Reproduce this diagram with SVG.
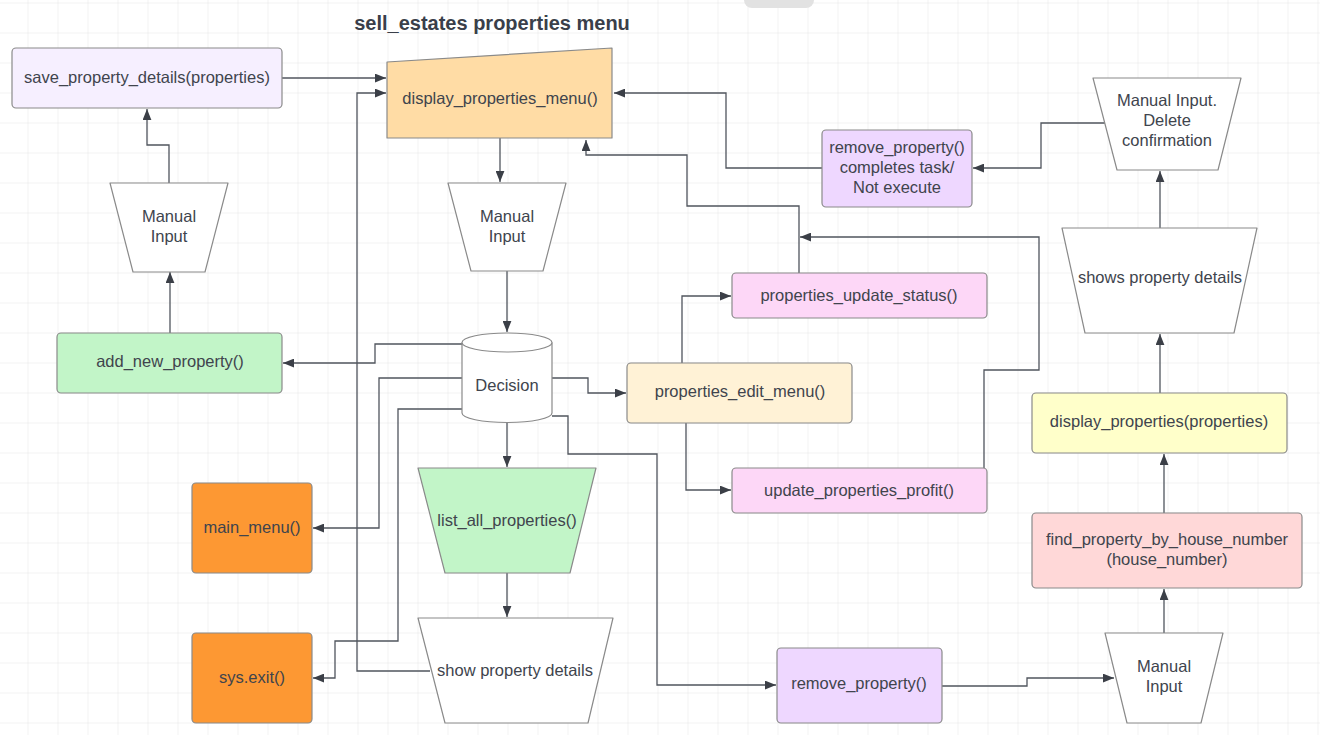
<svg xmlns="http://www.w3.org/2000/svg" width="1320" height="735" viewBox="0 0 1320 735">
<defs>
<pattern id="grid" x="27.5" y="2.5" width="30" height="30" patternUnits="userSpaceOnUse">
<path d="M0,0 H30 M0,0 V30" fill="none" stroke="#e6e6e6" stroke-width="1"/>
</pattern>
<marker id="arr" viewBox="0 0 10 8" refX="10" refY="4" markerWidth="11" markerHeight="9" markerUnits="userSpaceOnUse" orient="auto">
<path d="M0,0 L10,4 L0,8 Z" fill="#3b3f47"/>
</marker>
<style>
.n{stroke:#8a8a8a;stroke-width:1.2;stroke-linejoin:round}
.t{font-family:"Liberation Sans",Arial,sans-serif;font-size:16.5px;fill:#40444d;text-anchor:middle}
.c{fill:none;stroke:#50555e;stroke-width:1.3;marker-end:url(#arr)}
.w{fill:#ffffff}
.lav{fill:#f6efff}
.org{fill:#ffdca5}
.grn{fill:#c2f5c8}
.crm{fill:#fff2d6}
.pnk{fill:#fdd7f7}
.pur{fill:#eed7ff}
.yel{fill:#ffffca}
.red{fill:#ffd8d8}
.dor{fill:#fd9833}
</style>
</defs>
<rect width="1320" height="735" fill="#ffffff"/>
<rect width="1320" height="735" fill="url(#grid)"/>
<rect x="744" y="-12" width="70" height="20" rx="8" fill="#e2e2e2"/>
<text x="492" y="30" style="font-family:'Liberation Sans',Arial,sans-serif;font-size:20px;font-weight:bold;fill:#3a3f4a" text-anchor="middle">sell_estates properties menu</text>

<g id="connectors">
<path class="c" d="M282,78 H386"/>
<path class="c" d="M169,183 V145 H147 V109"/>
<path class="c" d="M170,333 V272"/>
<path class="c" d="M500,138 V182"/>
<path class="c" d="M507,271 V332"/>
<path class="c" d="M462,344 H375 V363 H283"/>
<path class="c" d="M462,378 H379 V528 H313"/>
<path class="c" d="M462,409 H398 V641 H335 V678 H313"/>
<path class="c" d="M430,671 H357 V93 H386"/>
<path class="c" d="M552,378 H588 V393 H626"/>
<path class="c" d="M507,422 V467"/>
<path class="c" d="M507,573 V617"/>
<path class="c" d="M552,416 H568 V454 H657 V685 H776"/>
<path class="c" d="M682,363 V296 H731"/>
<path class="c" d="M686,423 V490 H731"/>
<path class="c" d="M799,273 V206 H687 V155 H586 V140"/>
<path class="c" d="M984,468 V370 H1039 V237 H800"/>
<path class="c" d="M822,168 H726 V93 H614"/>
<path class="c" d="M1105,123 H1041 V168 H973"/>
<path class="c" d="M1160,228 V171"/>
<path class="c" d="M1160,393 V334"/>
<path class="c" d="M1164,513 V454"/>
<path class="c" d="M1164,633 V589"/>
<path class="c" d="M942,686 H1027 V678 H1114"/>
</g>

<g id="save_property_details">
<rect class="n lav" x="12" y="48" width="270" height="60" rx="4"/>
<text class="t" x="147" y="83">save_property_details(properties)</text>
</g>
<g id="display_properties_menu">
<path class="n org" d="M387,62 L612,48 L612,138 L387,138 Z"/>
<text class="t" x="500" y="104">display_properties_menu()</text>
</g>
<g id="manual_input_left">
<path class="n w" d="M110,183 L228,183 L205,272 L133,272 Z"/>
<text class="t" x="169" y="222">Manual</text>
<text class="t" x="169" y="242">Input</text>
</g>
<g id="add_new_property">
<rect class="n grn" x="57" y="333" width="225" height="60" rx="4"/>
<text class="t" x="170" y="367">add_new_property()</text>
</g>
<g id="manual_input_center">
<path class="n w" d="M448,183 L566,183 L543,271 L471,271 Z"/>
<text class="t" x="507" y="222">Manual</text>
<text class="t" x="507" y="242">Input</text>
</g>
<g id="decision">
<path class="n w" d="M462,342.5 V413 A45,9.5 0 0 0 552,413 V342.5"/>
<ellipse class="n w" cx="507" cy="342.5" rx="45" ry="9.5"/>
<text class="t" x="507" y="391">Decision</text>
</g>
<g id="properties_edit_menu">
<rect class="n crm" x="627" y="363" width="225" height="60" rx="4"/>
<text class="t" x="740" y="397">properties_edit_menu()</text>
</g>
<g id="properties_update_status">
<rect class="n pnk" x="732" y="273" width="255" height="45" rx="4"/>
<text class="t" x="859" y="301">properties_update_status()</text>
</g>
<g id="update_properties_profit">
<rect class="n pnk" x="732" y="468" width="255" height="45" rx="4"/>
<text class="t" x="859" y="496">update_properties_profit()</text>
</g>
<g id="remove_property_completes">
<rect class="n pur" x="822" y="130" width="150" height="77" rx="4"/>
<text class="t" x="897" y="153">remove_property()</text>
<text class="t" x="897" y="173">completes task/</text>
<text class="t" x="897" y="193">Not execute</text>
</g>
<g id="manual_input_delete">
<path class="n w" d="M1093,78 L1241,78 L1218,170 L1117,170 Z"/>
<text class="t" x="1167" y="106">Manual Input.</text>
<text class="t" x="1167" y="126">Delete</text>
<text class="t" x="1167" y="146">confirmation</text>
</g>
<g id="shows_property_details">
<path class="n w" d="M1062,228 L1257,228 L1234,333 L1085,333 Z"/>
<text class="t" x="1160" y="283">shows property details</text>
</g>
<g id="display_properties">
<rect class="n yel" x="1032" y="393" width="255" height="60" rx="4"/>
<text class="t" x="1159" y="427">display_properties(properties)</text>
</g>
<g id="find_property_by_house_number">
<rect class="n red" x="1032" y="513" width="270" height="75" rx="4"/>
<text class="t" x="1167" y="545">find_property_by_house_number</text>
<text class="t" x="1167" y="565">(house_number)</text>
</g>
<g id="manual_input_bottom">
<path class="n w" d="M1105,633 L1223,633 L1201,723 L1127,723 Z"/>
<text class="t" x="1164" y="672">Manual</text>
<text class="t" x="1164" y="692">Input</text>
</g>
<g id="remove_property">
<rect class="n pur" x="777" y="648" width="165" height="75" rx="4"/>
<text class="t" x="859" y="689">remove_property()</text>
</g>
<g id="show_property_details">
<path class="n w" d="M418,618 L613,618 L588,723 L445,723 Z"/>
<text class="t" x="515" y="676">show property details</text>
</g>
<g id="list_all_properties">
<path class="n grn" d="M418,468 L596,468 L570,573 L445,573 Z"/>
<text class="t" x="507" y="526">list_all_properties()</text>
</g>
<g id="main_menu">
<rect class="n dor" x="192" y="483" width="120" height="90" rx="4"/>
<text class="t" x="252" y="533">main_menu()</text>
</g>
<g id="sys_exit">
<rect class="n dor" x="192" y="633" width="120" height="90" rx="4"/>
<text class="t" x="252" y="683">sys.exit()</text>
</g>
</svg>
